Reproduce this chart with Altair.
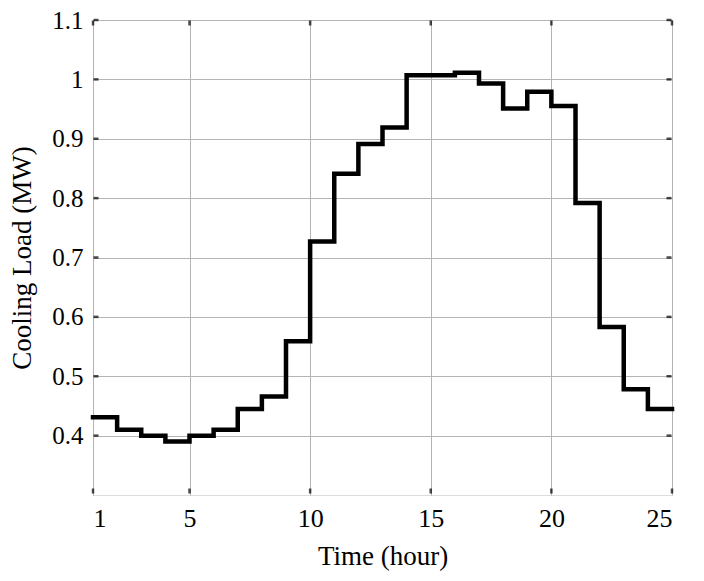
import altair as alt
import pandas as pd

hours = list(range(1, 25))
load_mw = [0.431, 0.410, 0.400, 0.390, 0.400, 0.410, 0.445, 0.466, 0.559, 0.727,
           0.841, 0.891, 0.919, 1.007, 1.007, 1.011, 0.993, 0.951, 0.979, 0.955,
           0.792, 0.583, 0.478, 0.445]
x_ticks = [1, 5, 10, 15, 20, 25]
y_ticks = [0.4, 0.5, 0.6, 0.7, 0.8, 0.9, 1.0, 1.1]

# step-after line: each hour's value holds until the next hour; close at hour 25
df = pd.DataFrame({"hour": hours + [25], "load": load_mw + [load_mw[-1]]})
xt = pd.DataFrame({"t": x_ticks})
yt = pd.DataFrame({"t": y_ticks})

W, H = 579, 475
FONT = "Liberation Serif"

xscale = alt.Scale(domain=[1, 25], nice=False, zero=False)
yscale = alt.Scale(domain=[0.3, 1.1], nice=False, zero=False)

line = alt.Chart(df).mark_line(
    interpolate="step-after", color="black", strokeWidth=4.5, strokeJoin="miter", strokeCap="square"
).encode(
    x=alt.X("hour:Q", scale=xscale,
            axis=alt.Axis(values=x_ticks, title="Time (hour)", format="d",
                          grid=True, gridColor="#b4b4b4", gridWidth=1,
                          tickSize=0, domain=False, labelPadding=10,
                          labelFont=FONT, labelFontSize=26, labelColor="black",
                          titleFont=FONT, titleFontSize=27, titleFontWeight="normal",
                          titleColor="black", titlePadding=12)),
    y=alt.Y("load:Q", scale=yscale,
            axis=alt.Axis(values=y_ticks, title="Cooling Load (MW)",
                          labelExpr="datum.value == 1 ? '1' : format(datum.value, '.1f')",
                          grid=True, gridColor="#b4b4b4", gridWidth=1,
                          tickSize=0, domain=False, labelPadding=10,
                          labelFont=FONT, labelFontSize=25, labelColor="black",
                          titleFont=FONT, titleFontSize=27, titleFontWeight="normal",
                          titleColor="black", titlePadding=15)),
)

tick_style = dict(color="black", thickness=2.5, size=5)
left_ticks = alt.Chart(yt).mark_tick(orient="horizontal", **tick_style).encode(
    y=alt.Y("t:Q", scale=yscale), x=alt.value(3))
right_ticks = alt.Chart(yt).mark_tick(orient="horizontal", **tick_style).encode(
    y=alt.Y("t:Q", scale=yscale), x=alt.value(W - 3))
bottom_ticks = alt.Chart(xt).mark_tick(orient="vertical", **tick_style).encode(
    x=alt.X("t:Q", scale=xscale), y=alt.value(H - 4))
top_ticks = alt.Chart(xt).mark_tick(orient="vertical", **tick_style).encode(
    x=alt.X("t:Q", scale=xscale), y=alt.value(3))

chart = alt.layer(line, left_ticks, right_ticks, bottom_ticks, top_ticks).properties(
    width=W, height=H,
    autosize="none",
    padding={"left": 85, "top": 12, "right": 24, "bottom": 78},
).configure_view(
    stroke="#8c8c8c", strokeWidth=1.5
).configure(background="white")

chart.save("out.html", embed_options={"renderer": "svg", "actions": False})
